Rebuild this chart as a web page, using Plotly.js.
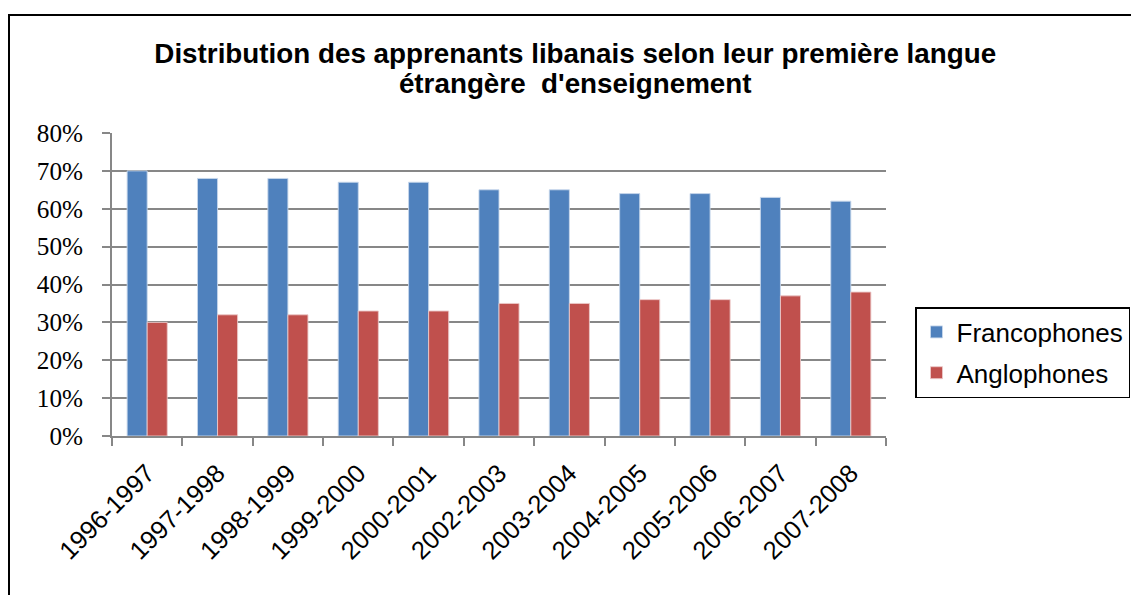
<!DOCTYPE html>
<html>
<head>
<meta charset="utf-8">
<script src="https://cdn.plot.ly/plotly-3.0.1.min.js"></script>
<style>html,body{margin:0;padding:0;background:#fff;}#chart{width:1131px;height:595px;}</style>
</head>
<body>
<div id="chart"></div>
<script>
const categories = ["1996-1997","1997-1998","1998-1999","1999-2000","2000-2001","2002-2003","2003-2004","2004-2005","2005-2006","2006-2007","2007-2008"];
const francophones = [70,68,68,67,67,65,65,64,64,63,62];
const anglophones = [30,32,32,33,33,35,35,36,36,37,38];
const yTickValues = [0,10,20,30,40,50,60,70,80];
const yTickLabels = ["0%","10%","20%","30%","40%","50%","60%","70%","80%"];
const seriesNames = ["Francophones","Anglophones"];
const titleLine1 = "Distribution des apprenants libanais selon leur première langue";
const titleLine2 = "étrangère\u00a0 d'enseignement";

const grid = '#878787';
const traces = [
  {type:'bar', name:seriesNames[0], x:categories, y:francophones, legendgroup:'a',
   marker:{color:'#4F81BD', line:{color:'rgba(200,215,235,0.9)', width:1}}},
  {type:'bar', name:seriesNames[1], x:categories, y:anglophones, legendgroup:'b',
   marker:{color:'#C0504D', line:{color:'rgba(235,200,200,0.9)', width:1}}}
];
const span = t => '<span style="font-size:27.8px">' + t + '</span>';
const layout = {
  width:1131, height:595,
  margin:{l:112, r:245, t:133, b:159, pad:0},
  paper_bgcolor:'#fff', plot_bgcolor:'#fff',
  barmode:'group', bargap:0.43, bargroupgap:0,
  title:{text: span(titleLine1) + '<br>' + span(titleLine2),
    font:{family:'Liberation Sans, Arial, sans-serif', size:23, weight:'bold', color:'#000'},
    xref:'paper', x:0.5985, xanchor:'center', yref:'container', y:1-63/595, yanchor:'top'},
  xaxis:{type:'category', tickangle:-45, tickson:'boundaries', ticks:'outside', ticklen:8, tickwidth:2, tickcolor:grid,
    showline:true, linecolor:grid, linewidth:2, showgrid:false, automargin:false, ticklabelstandoff:10,
    tickfont:{family:'Liberation Sans, Arial, sans-serif', size:25.5, color:'#000'}},
  yaxis:{range:[0,80], tickmode:'array', tickvals:yTickValues, ticktext:yTickLabels, ticks:'outside', ticklen:8, tickwidth:2, tickcolor:grid,
    showline:true, linecolor:grid, linewidth:2, showgrid:true, gridcolor:grid, gridwidth:2, zeroline:false,
    ticklabelstandoff:14, automargin:false,
    tickfont:{family:'"Liberation Serif", "Times New Roman", serif', size:25.2, color:'#000'}},
  legend:{xref:'container', yref:'container', x:915/1131, xanchor:'left', y:1-307/595, yanchor:'top', bordercolor:'#000', borderwidth:1.5,
    font:{family:'Liberation Sans, Arial, sans-serif', size:26, color:'#000'}, traceorder:'grouped', tracegroupgap:4, bgcolor:'#fff'},
  shapes:[{type:'rect', xref:'paper', yref:'paper', x0:(9-112)/774, x1:(1145-112)/774, y0:(436-610)/303, y1:(436-15)/303,
    line:{color:'#000', width:2}, fillcolor:'rgba(0,0,0,0)', layer:'below'}]
};
Plotly.newPlot('chart', traces, layout, {displayModeBar:false, staticPlot:true});
</script>
</body>
</html>
